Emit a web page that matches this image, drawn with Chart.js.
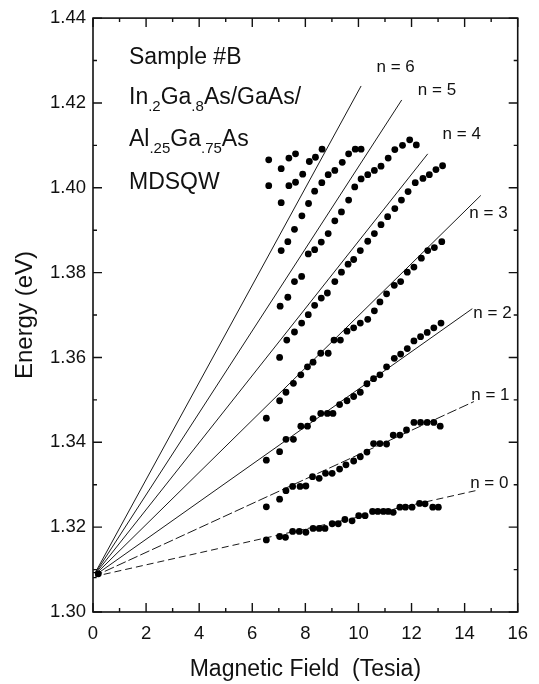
<!DOCTYPE html>
<html>
<head>
<meta charset="utf-8">
<script src="https://cdn.jsdelivr.net/npm/chart.js@4.4.0/dist/chart.umd.min.js"></script>
<style>
  html, body { margin: 0; padding: 0; background: #fff; }
  #wrap { width: 539px; height: 684px; }
</style>
</head>
<body>
<div id="wrap"><canvas id="fan" width="539" height="684"></canvas></div>
<script>
// Landau fan: measured peak positions (dots) and fitted levels (lines)
// each entry is [field (T), energy (eV)]
var levelN0 = [[6.53,1.3170],[7.03,1.3178],[7.25,1.3176],[7.52,1.3190],[7.77,1.3190],[8.02,1.3188],[8.29,1.3197],[8.52,1.3197],[8.74,1.3197],[9.01,1.3208],[9.24,1.3208],[9.49,1.3218],[9.76,1.3215],[10.01,1.3227],[10.25,1.3227],[10.53,1.3237],[10.73,1.3237],[10.94,1.3237],[11.12,1.3237],[11.31,1.3235],[11.56,1.3247],[11.77,1.3247],[12.02,1.3247],[12.30,1.3256],[12.51,1.3255],[12.80,1.3247],[13.01,1.3247]];
var levelN1 = [[6.53,1.3248],[7.03,1.3266],[7.27,1.3286],[7.52,1.3296],[7.80,1.3296],[8.02,1.3297],[8.27,1.3319],[8.52,1.3315],[8.76,1.3327],[9.01,1.3327],[9.29,1.3337],[9.53,1.3347],[9.82,1.3356],[10.07,1.3366],[10.32,1.3377],[10.57,1.3397],[10.81,1.3397],[11.06,1.3396],[11.31,1.3417],[11.56,1.3417],[11.81,1.3429],[12.09,1.3447],[12.34,1.3447],[12.59,1.3447],[12.84,1.3447],[13.08,1.3438]];
var levelN2 = [[6.53,1.3358],[7.03,1.3378],[7.27,1.3407],[7.55,1.3407],[7.83,1.3438],[8.08,1.3438],[8.29,1.3456],[8.58,1.3468],[8.83,1.3468],[9.04,1.3468],[9.29,1.3489],[9.57,1.3498],[9.82,1.3508],[10.07,1.3518],[10.32,1.3538],[10.57,1.3550],[10.81,1.3559],[11.06,1.3578],[11.35,1.3598],[11.59,1.3608],[11.84,1.3621],[12.09,1.3639],[12.34,1.3649],[12.59,1.3659],[12.84,1.3670],[13.11,1.3681]];
var levelN3 = [[6.53,1.3457],[7.03,1.3498],[7.27,1.3518],[7.55,1.3539],[7.83,1.3559],[8.08,1.3578],[8.29,1.3589],[8.58,1.3610],[8.86,1.3610],[9.08,1.3641],[9.32,1.3641],[9.57,1.3662],[9.82,1.3670],[10.07,1.3681],[10.35,1.3690],[10.60,1.3710],[10.81,1.3731],[11.06,1.3750],[11.35,1.3770],[11.59,1.3779],[11.84,1.3801],[12.09,1.3813],[12.37,1.3834],[12.61,1.3852],[12.86,1.3859],[13.14,1.3873]];
var levelN4 = [[7.03,1.3600],[7.30,1.3641],[7.59,1.3660],[7.86,1.3681],[8.11,1.3701],[8.35,1.3723],[8.60,1.3740],[8.83,1.3752],[9.11,1.3779],[9.36,1.3801],[9.61,1.3820],[9.82,1.3831],[10.07,1.3852],[10.35,1.3874],[10.60,1.3892],[10.85,1.3913],[11.10,1.3932],[11.37,1.3951],[11.62,1.3971],[11.87,1.3991],[12.14,1.4012],[12.43,1.4022],[12.67,1.4031],[12.92,1.4043],[13.17,1.4052]];
var levelN5 = [[7.05,1.3721],[7.34,1.3742],[7.59,1.3779],[7.86,1.3791],[8.11,1.3844],[8.35,1.3854],[8.60,1.3872],[8.86,1.3892],[9.11,1.3922],[9.36,1.3943],[9.63,1.3971],[9.86,1.4002],[10.10,1.4021],[10.35,1.4031],[10.60,1.4041],[10.85,1.4051],[11.12,1.4070],[11.37,1.4090],[11.66,1.4100],[11.93,1.4113],[12.18,1.4101]];
var levelN6 = [[7.09,1.3852],[7.34,1.3873],[7.59,1.3902],[7.87,1.3934],[8.12,1.3963],[8.35,1.3992],[8.62,1.4012],[8.86,1.4031],[9.11,1.4041],[9.39,1.4060],[9.63,1.4080],[9.88,1.4091],[10.10,1.4091]];
var upperPeaks = [[6.62,1.4066],[6.62,1.4005],[7.09,1.4045],[7.09,1.3965],[7.38,1.4070],[7.38,1.4005],[7.63,1.4080],[7.63,1.4013],[7.90,1.4032],[8.15,1.4062],[8.38,1.4072],[8.63,1.4091]];
var zeroField = [[0.2,1.3090]];
var zeroFieldOpen = [[0.02,1.3087]];

// fitted levels all start from the band edge at B = 0
var fitOrigin = [0, 1.3083];
var fitEnds = [[14.41,1.3286],[14.35,1.3496],[14.29,1.3715],[14.61,1.3982],[12.61,1.4080],[11.63,1.4207],[10.10,1.4240]];
var levelNames = ['n = 0','n = 1','n = 2','n = 3','n = 4','n = 5','n = 6'];
var nameSpots = [[14.93,1.3304],[14.97,1.3511],[15.05,1.3705],[14.90,1.3939],[13.89,1.4126],[12.96,1.4230],[11.40,1.4283]];

var fieldLabels = [0,2,4,6,8,10,12,14,16];
var energyLabels = ['1.30','1.32','1.34','1.36','1.38','1.40','1.42','1.44'];

var FONT = '"Liberation Sans", Arial, sans-serif';

function toPoints(list) {
  return list.map(function(p) { return {x: p[0], y: p[1]}; });
}

var datasets = [];
fitEnds.forEach(function(end, i) {
  datasets.push({
    data: toPoints([fitOrigin, end]),
    showLine: true,
    borderColor: '#1a1a1a',
    borderWidth: 1,
    borderDash: i === 0 ? [7, 4] : (i === 1 ? [10, 3] : []),
    pointRadius: 0,
    order: 2
  });
});
[levelN0, levelN1, levelN2, levelN3, levelN4, levelN5, levelN6, upperPeaks, zeroField].forEach(function(set) {
  datasets.push({
    data: toPoints(set),
    showLine: false,
    pointRadius: 3.4,
    pointBackgroundColor: '#000',
    pointBorderColor: '#000',
    pointBorderWidth: 0,
    order: 1
  });
});
datasets.push({
  data: toPoints(zeroFieldOpen),
  showLine: false,
  pointStyle: 'rect',
  pointRadius: 3.5,
  pointBackgroundColor: '#fff',
  pointBorderColor: '#000',
  pointBorderWidth: 1.2,
  order: 1
});

// box with inward ticks on all four sides
var frameTicks = {
  id: 'frameTicks',
  afterDatasetsDraw: function(chart) {
    var ctx = chart.ctx, a = chart.chartArea;
    var xs = chart.scales.x, ys = chart.scales.y;
    ctx.save();
    ctx.strokeStyle = '#111';
    ctx.lineWidth = 1.6;
    ctx.strokeRect(a.left, a.top, a.right - a.left, a.bottom - a.top);
    ctx.lineWidth = 1.4;
    ctx.beginPath();
    xs.ticks.forEach(function(t) {
      var px = xs.getPixelForValue(t.value);
      var len = Math.round(t.value) % 2 === 0 ? 9 : 4;
      ctx.moveTo(px, a.bottom); ctx.lineTo(px, a.bottom - len);
      ctx.moveTo(px, a.top); ctx.lineTo(px, a.top + len);
    });
    ys.ticks.forEach(function(t) {
      var py = ys.getPixelForValue(t.value);
      var len = Math.round(t.value * 100) % 2 === 0 ? 9 : 4;
      ctx.moveTo(a.left, py); ctx.lineTo(a.left + len, py);
      ctx.moveTo(a.right, py); ctx.lineTo(a.right - len, py);
    });
    ctx.stroke();
    ctx.restore();
  }
};

function drawRuns(ctx, x, y, runs) {
  runs.forEach(function(r) {
    ctx.font = (r[1] ? '15px ' : '23px ') + FONT;
    ctx.fillText(r[0], x, y + (r[1] ? 7 : 0));
    x += ctx.measureText(r[0]).width;
  });
}

// sample description and level names
var notes = {
  id: 'notes',
  afterDraw: function(chart) {
    var ctx = chart.ctx, a = chart.chartArea;
    var xs = chart.scales.x, ys = chart.scales.y;
    ctx.save();
    ctx.fillStyle = '#111';
    ctx.textBaseline = 'alphabetic';
    ctx.textAlign = 'left';
    var left = a.left + 36;
    drawRuns(ctx, left, 64, [['Sample #B']]);
    drawRuns(ctx, left, 104, [['In'], ['.2', 1], ['Ga'], ['.8', 1], ['As/GaAs/']]);
    drawRuns(ctx, left, 146, [['Al'], ['.25', 1], ['Ga'], ['.75', 1], ['As']]);
    drawRuns(ctx, left, 189, [['MDSQW']]);

    ctx.font = '17px ' + FONT;
    ctx.textAlign = 'center';
    ctx.textBaseline = 'middle';
    levelNames.forEach(function(name, i) {
      ctx.fillText(name, xs.getPixelForValue(nameSpots[i][0]), ys.getPixelForValue(nameSpots[i][1]));
    });
    ctx.restore();
  }
};

new Chart(document.getElementById('fan'), {
  type: 'scatter',
  data: { datasets: datasets },
  options: {
    responsive: false,
    animation: false,
    devicePixelRatio: 1,
    layout: { padding: { top: 14, right: 17, left: 0, bottom: 0 } },
    plugins: { legend: { display: false }, tooltip: { enabled: false } },
    scales: {
      x: {
        type: 'linear',
        min: 0,
        max: 16,
        grid: { display: false, drawTicks: false },
        border: { display: false },
        ticks: {
          stepSize: 1,
          padding: 11,
          color: '#111',
          font: { family: FONT, size: 18.5 },
          maxRotation: 0,
          autoSkip: false,
          callback: function(v) {
            return fieldLabels.indexOf(v) >= 0 ? String(v) : '';
          }
        },
        title: {
          display: true,
          text: 'Magnetic Field  (Tesia)',
          color: '#111',
          font: { family: FONT, size: 23 },
          padding: { top: 0, bottom: 1 }
        },
        afterFit: function(scale) { scale.height = 72; }
      },
      y: {
        type: 'linear',
        min: 1.30,
        max: 1.44,
        grid: { display: false, drawTicks: false },
        border: { display: false },
        ticks: {
          stepSize: 0.01,
          padding: 7,
          color: '#111',
          font: { family: FONT, size: 18.5 },
          autoSkip: false,
          callback: function(v) {
            var s = v.toFixed(2);
            return energyLabels.indexOf(s) >= 0 ? s : '';
          }
        },
        title: {
          display: true,
          text: 'Energy (eV)',
          color: '#111',
          font: { family: FONT, size: 24 },
          padding: { top: 11, bottom: 0 }
        },
        afterFit: function(scale) { scale.width = 93; }
      }
    }
  },
  plugins: [frameTicks, notes]
});
</script>
</body>
</html>
